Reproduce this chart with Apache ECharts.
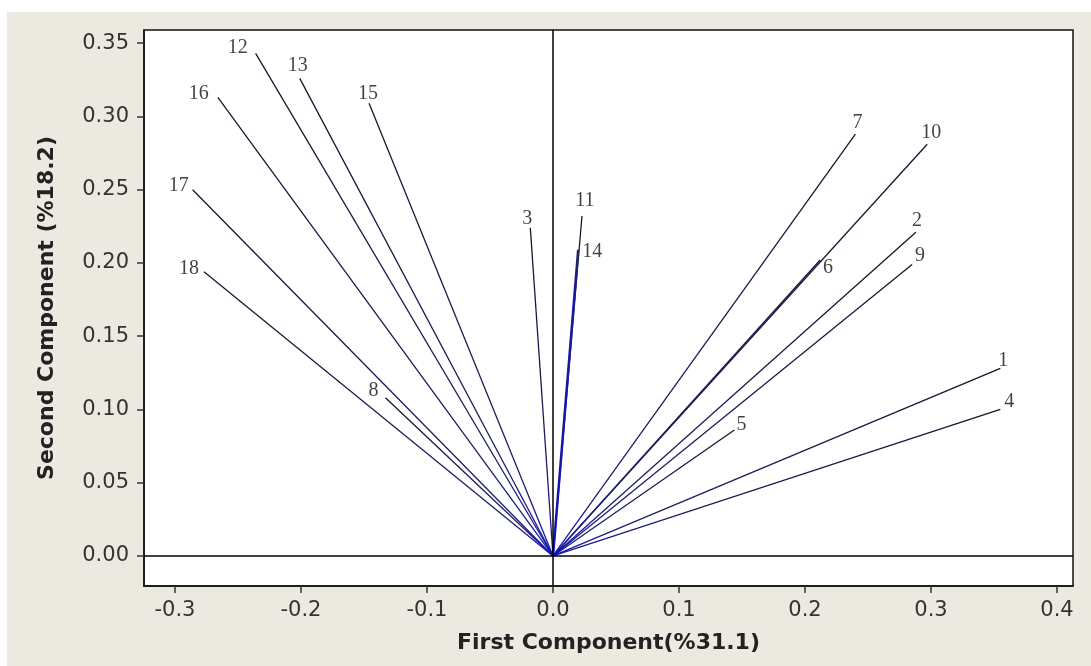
<!DOCTYPE html>
<html>
<head>
<meta charset="utf-8">
<script src="https://cdn.jsdelivr.net/npm/echarts@6/dist/echarts.min.js"></script>
<style>
    html, body { margin: 0; padding: 0; background: #fff; }
    #main { position: absolute; left: 7px; top: 12px; width: 1084px; height: 654px; background: #ECE9E0; }
</style>
</head>
<body>
<div id="main"></div>
<script>
    // loadings of the 18 variables (first, second component)
    var varNames = ['1', '2', '3', '4', '5', '6', '7', '8', '9', '10', '11', '12', '13', '14', '15', '16', '17', '18'];
    var pc1 = [0.355, 0.288, -0.018, 0.355, 0.144, 0.212, 0.240, -0.133, 0.285, 0.297, 0.023, -0.236, -0.201, 0.020, -0.146, -0.266, -0.286, -0.277];
    var pc2 = [0.128, 0.221, 0.224, 0.100, 0.086, 0.202, 0.288, 0.108, 0.199, 0.281, 0.232, 0.343, 0.326, 0.209, 0.309, 0.313, 0.250, 0.194];
    var xTicks = [-0.3, -0.2, -0.1, 0.0, 0.1, 0.2, 0.3, 0.4];
    var yTicks = [0.00, 0.05, 0.10, 0.15, 0.20, 0.25, 0.30, 0.35];

    // label placement (pixels, relative to vector tip)
    var labelOffsets = [[3, -8], [1, -11], [-3, -9], [9, -8], [7, -5], [8, 8], [2, -11], [-12, -7], [8, -9],
        [4, -12], [3, -15], [-18, -6], [-2, -13], [14, 2], [-1, -10], [-19, -4], [-14, -4], [-15, -3]];

    var chart = echarts.init(document.getElementById('main'));

    var series = [];
    for (var i = 0; i < varNames.length; i++) {
        var x0 = pc1[i] >= 0 ? 0 : 1;
        var isBlue = varNames[i] === '14';
        series.push({
            type: 'line',
            name: varNames[i],
            symbol: 'none',
            silent: true,
            z: isBlue ? 4 : 3,
            lineStyle: {
                width: isBlue ? 2.5 : 1.3,
                color: new echarts.graphic.LinearGradient(x0, 1, 1 - x0, 0, isBlue ? [
                    {offset: 0, color: '#1414b0'},
                    {offset: 0.85, color: '#1818a0'},
                    {offset: 1, color: '#262650'}
                ] : [
                    {offset: 0, color: '#1414b4'},
                    {offset: 0.2, color: '#1e1e66'},
                    {offset: 1, color: '#15152a'}
                ])
            },
            data: [[0, 0], [pc1[i], pc2[i]]]
        });
    }

    // tip labels
    series.push({
        type: 'scatter',
        symbolSize: 0,
        silent: true,
        z: 5,
        label: {
            show: true,
            formatter: function (p) { return p.name; },
            align: 'center',
            verticalAlign: 'middle',
            fontFamily: '"Liberation Serif", serif',
            fontSize: 20,
            color: '#111'
        },
        data: varNames.map(function (n, i) {
            return {name: n, value: [pc1[i], pc2[i]], label: {position: labelOffsets[i]}};
        })
    });

    // zero reference lines
    series.push({
        type: 'line',
        data: [],
        markLine: {
            silent: true,
            symbol: 'none',
            label: {show: false},
            lineStyle: {color: '#000', width: 1.5, type: 'solid'},
            data: [{xAxis: 0}, {yAxis: 0}]
        }
    });

    var option = {
        animation: false,
        grid: {
            left: 137,
            right: 18,
            top: 18,
            bottom: 80,
            show: true,
            backgroundColor: '#fff',
            borderColor: '#111',
            borderWidth: 1.5
        },
        xAxis: {
            type: 'value',
            min: -0.3246,
            max: 0.4127,
            name: 'First Component(%31.1)',
            nameLocation: 'middle',
            nameGap: 46,
            nameTextStyle: {fontFamily: '"DejaVu Sans", sans-serif', fontWeight: 'bold', fontSize: 22, color: '#222'},
            axisLine: {onZero: false, lineStyle: {color: '#111', width: 1.5}},
            axisTick: {show: true, length: 7, customValues: xTicks, lineStyle: {color: '#333', width: 1.5}},
            axisLabel: {
                customValues: xTicks,
                margin: 14,
                fontFamily: '"DejaVu Sans", sans-serif',
                fontSize: 21,
                color: '#333',
                formatter: function (v) { return v.toFixed(1); }
            },
            splitLine: {show: false}
        },
        yAxis: {
            type: 'value',
            min: -0.0205,
            max: 0.359,
            name: 'Second Component (%18.2)',
            nameLocation: 'middle',
            nameGap: 86,
            nameTextStyle: {fontFamily: '"DejaVu Sans", sans-serif', fontWeight: 'bold', fontSize: 22, color: '#222'},
            axisLine: {onZero: false, lineStyle: {color: '#111', width: 1.5}},
            axisTick: {show: true, length: 7, customValues: yTicks, lineStyle: {color: '#333', width: 1.5}},
            axisLabel: {
                customValues: yTicks,
                margin: 15,
                fontFamily: '"DejaVu Sans", sans-serif',
                fontSize: 21,
                color: '#333',
                formatter: function (v) { return v.toFixed(2); }
            },
            splitLine: {show: false}
        },
        series: series
    };

    chart.setOption(option);
</script>
</body>
</html>
